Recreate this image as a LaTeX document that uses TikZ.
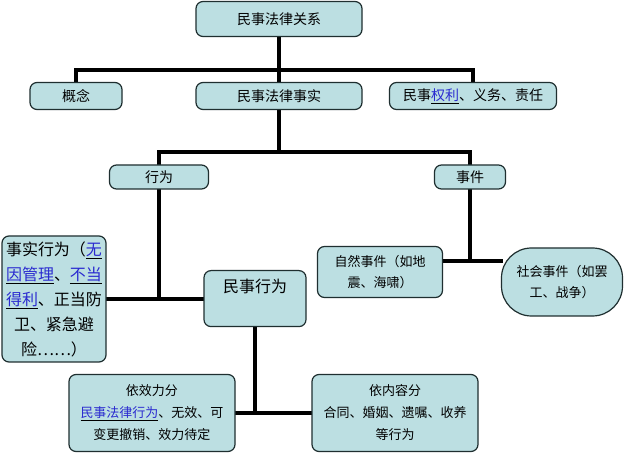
\documentclass[tikz,border=0pt]{standalone}
\usepackage{fontspec}
\setmainfont{Noto Sans CJK SC}
\usepackage{tikz}
\usetikzlibrary{positioning,backgrounds}
\definecolor{boxfill}{HTML}{BCDFE2}
\definecolor{boxline}{HTML}{1F2F30}
\definecolor{linkblue}{HTML}{2A2AD0}
\newcommand{\lnk}[1]{\underline{\textcolor{linkblue}{#1}}}

\begin{document}
\begin{tikzpicture}[x=1pt,y=-1pt,
  box/.style={draw=boxline,fill=boxfill,line width=1.2pt,rounded corners=7pt,
    inner sep=0pt,align=center,font=\fontsize{14}{21}\selectfont},
  bus/.style={line width=3.2pt,line cap=rect}]
\useasboundingbox (0,0) rectangle (625,457);
% top level
\node[box,minimum width=166,minimum height=35] (rel) at (279,19) {民事法律关系};
\node[box,minimum width=92,minimum height=27] (idea) at (76,96) {概念};
\node[box,minimum width=166,minimum height=27] (fact) at (279,96) {民事法律事实};
\node[box,minimum width=167,minimum height=27] (right) at (473,96) {民事\lnk{权利}、义务、责任};
% second level
\node[box,minimum width=99,minimum height=24] (act) at (159,177) {行为};
\node[box,minimum width=71,minimum height=24] (event) at (470,177) {事件};
% third level
\node[box,minimum width=104,minimum height=126,font=\fontsize{16}{25}\selectfont] (real) at (54,299)
  {事实行为（\lnk{无}\\\lnk{因管理}、\lnk{不当}\\\lnk{得利}、正当防\\卫、紧急避\\险……）};
\node[box,minimum width=102,minimum height=56,anchor=north] (civil) at (255,270) {};
\node[below=6pt of civil.north,font=\fontsize{16}{20}\selectfont] (civiltxt) {民事行为};
\node[box,minimum width=125,minimum height=51,font=\fontsize{13}{21}\selectfont] (nature) at (380,272)
  {自然事件（如地\\震、海啸）};
\node[box,minimum width=121,minimum height=68,rounded corners=30pt,font=\fontsize{13}{21}\selectfont] (social) at (562,282)
  {社会事件（如罢\\工、战争）};
% fourth level
\node[box,minimum width=166,minimum height=77,font=\fontsize{13}{22}\selectfont] (valid) at (152,413)
  {依效力分\\\lnk{民事法律行为}、无效、可\\变更撤销、效力待定};
\node[box,minimum width=166,minimum height=77,font=\fontsize{13}{22}\selectfont] (content) at (395,413)
  {依内容分\\合同、婚姻、遗嘱、收养\\等行为};
% connectors
\begin{pgfonlayer}{background}
\fill[white] (0,0) rectangle (625,457);
\draw[bus] (rel.south) -- (279,70) coordinate (j1);
\draw[bus] (idea.north) |- (j1) -| (right.north);
\draw[bus] (j1) -- (fact.north);
\draw[bus] (fact.south) -- (279,152) coordinate (j2);
\draw[bus] (act.north) |- (j2) -| (event.north);
\draw[bus] (act.south) -- (act.south |- real.east) coordinate (j3);
\draw[bus] (real.east) -- (civil.west |- real.east);
\draw[bus] (event.south) -- (470,261) coordinate (j4);
\draw[bus] (nature.east |- j4) -- (social.west |- j4);
\draw[bus] (civil.south) -- (255,413) coordinate (j5);
\draw[bus] (valid.east) -- (content.west);
\end{pgfonlayer}
\end{tikzpicture}
\end{document}
